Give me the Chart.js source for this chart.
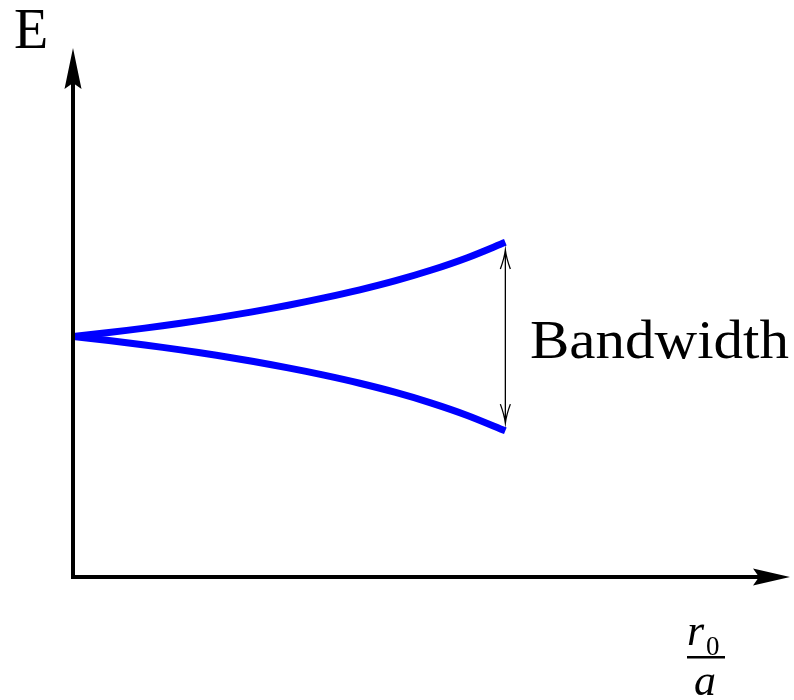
<!DOCTYPE html>
<html>
<head>
<meta charset="utf-8">
<style>
  html, body { margin: 0; padding: 0; background: #fff; }
  #wrap { width: 794px; height: 700px; }
</style>
<script src="https://cdn.jsdelivr.net/npm/chart.js@4/dist/chart.umd.min.js"></script>
</head>
<body>
<div id="wrap"><canvas id="bandChart"></canvas></div>
<script>
// r0/a (arbitrary units) and energy E (arbitrary units)
const xValues = [0, 0.5, 1, 1.5, 2, 2.5, 3, 3.5, 4, 4.5, 5, 5.5, 6.03]
const upperBand = [5, 5.083, 5.175, 5.277, 5.389, 5.514, 5.651, 5.803, 5.971, 6.162, 6.383, 6.640, 6.961]
const lowerBand = [5, 4.917, 4.825, 4.723, 4.611, 4.486, 4.349, 4.197, 4.029, 3.838, 3.617, 3.360, 3.039]
// the double arrow marking the bandwidth
const bandArrowX = 6.03
const bandArrowY = [6.8, 3.2]
const labels = { y: 'E', band: 'Bandwidth', xNum: 'r', xSub: '0', xDen: 'a' }

const toPoints = (ys) => xValues.map((x, i) => ({ x: x, y: ys[i] }))

const lineStyle = {
    borderColor: '#0000ff',
    borderWidth: 7,
    pointRadius: 0,
    fill: false,
    borderCapStyle: 'butt',
    tension: 0.3
}

// axes with arrow heads, the bandwidth arrow and the text labels
const drawing = {
    id: 'drawing',
    afterDatasetsDraw(chart) {
        const ctx = chart.ctx
        const a = chart.chartArea
        const sx = chart.scales.x
        const sy = chart.scales.y
        const ox = a.left, oy = a.bottom
        ctx.save()
        ctx.strokeStyle = '#000'
        ctx.fillStyle = '#000'
        ctx.lineWidth = 4
        ctx.lineCap = 'square'
        // y axis
        ctx.beginPath()
        ctx.moveTo(ox, oy)
        ctx.lineTo(ox, a.top + 30)
        ctx.stroke()
        ctx.beginPath()
        ctx.moveTo(ox, a.top)
        ctx.lineTo(ox + 8.5, a.top + 41)
        ctx.lineTo(ox, a.top + 35)
        ctx.lineTo(ox - 8.5, a.top + 41)
        ctx.closePath()
        ctx.fill()
        // x axis
        ctx.beginPath()
        ctx.moveTo(ox, oy)
        ctx.lineTo(a.right - 30, oy)
        ctx.stroke()
        ctx.beginPath()
        ctx.moveTo(a.right, oy)
        ctx.lineTo(a.right - 37, oy - 8.5)
        ctx.lineTo(a.right - 31, oy)
        ctx.lineTo(a.right - 37, oy + 8.5)
        ctx.closePath()
        ctx.fill()

        // bandwidth double arrow
        const bx = sx.getPixelForValue(bandArrowX)
        const y1 = sy.getPixelForValue(bandArrowY[0])
        const y2 = sy.getPixelForValue(bandArrowY[1])
        ctx.lineWidth = 1.3
        ctx.lineCap = 'butt'
        ctx.beginPath()
        ctx.moveTo(bx, y1)
        ctx.lineTo(bx, y2)
        ctx.moveTo(bx - 5, y1 + 19)
        ctx.quadraticCurveTo(bx - 1, y1 + 8, bx, y1)
        ctx.quadraticCurveTo(bx + 1, y1 + 8, bx + 5, y1 + 19)
        ctx.moveTo(bx - 5, y2 - 19)
        ctx.quadraticCurveTo(bx - 1, y2 - 8, bx, y2)
        ctx.quadraticCurveTo(bx + 1, y2 - 8, bx + 5, y2 - 19)
        ctx.stroke()

        // texts
        ctx.textBaseline = 'alphabetic'
        ctx.textAlign = 'left'
        ctx.font = '56px "Liberation Serif", "DejaVu Serif", serif'
        ctx.fillText(labels.y, 14, 48)

        ctx.font = '54px "Liberation Serif", "DejaVu Serif", serif'
        const w = ctx.measureText(labels.band).width
        ctx.save()
        ctx.translate(530, 358)
        ctx.scale(259 / w, 1)
        ctx.fillText(labels.band, 0, 0)
        ctx.restore()

        ctx.font = 'italic 44px "Liberation Serif", "DejaVu Serif", serif'
        ctx.fillText(labels.xNum, 687, 645)
        ctx.font = '27px "Liberation Serif", "DejaVu Serif", serif'
        ctx.fillText(labels.xSub, 706, 655)
        ctx.fillRect(687, 656, 38, 2.5)
        ctx.font = 'italic 44px "Liberation Serif", "DejaVu Serif", serif'
        ctx.fillText(labels.xDen, 694, 695)
        ctx.restore()
    }
}

const ctxBand = document.getElementById('bandChart')

new Chart(ctxBand, {
    type: 'line',
    data: {
        datasets: [
            Object.assign({ label: 'upper', data: toPoints(upperBand) }, lineStyle),
            Object.assign({ label: 'lower', data: toPoints(lowerBand) }, lineStyle)
        ]
    },
    options: {
        responsive: true,
        maintainAspectRatio: false,
        animation: false,
        layout: { padding: { left: 73, right: 4, top: 48, bottom: 123 } },
        plugins: { legend: { display: false }, tooltip: { enabled: false } },
        scales: {
            x: { type: 'linear', min: 0, max: 10, display: false },
            y: { type: 'linear', min: 0, max: 11, display: false }
        }
    },
    plugins: [drawing]
})
</script>
</body>
</html>
